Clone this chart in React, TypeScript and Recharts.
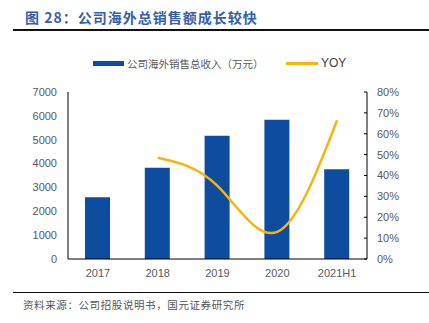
import React from "react";
import {
  ComposedChart,
  Bar,
  Line,
  XAxis,
  YAxis,
} from "recharts";

const years = ["2017", "2018", "2019", "2020", "2021H1"];
const sales = [2590, 3830, 5170, 5840, 3760];
const yoy = [null, 0.485, 0.35, 0.13, 0.665];
const salesTicks = [0, 1000, 2000, 3000, 4000, 5000, 6000, 7000];
const yoyTicks = [0, 0.1, 0.2, 0.3, 0.4, 0.5, 0.6, 0.7, 0.8];
const bandTicks = [1, 2, 3, 4];

const BLUE = "#0D4C9F";
const GOLD = "#F6B50E";
const TICK = { fill: "#595959", fontSize: 11, fontFamily: "Liberation Sans, Arial" };

const data = years.map((y, i) => ({ year: y, sales: sales[i], yoy: yoy[i] }));

const App = () => {
  return (
    <div style={{ position: "relative", width: 429, height: 323, background: "#fff" }}>
      <style>{`body{margin:0}`}</style>
      <div
        style={{
          position: "absolute",
          left: 25,
          top: 7,
          fontFamily: "Noto Sans CJK SC",
          fontWeight: 700,
          fontSize: 14,
          letterSpacing: 1,
          color: "#3560A8",
          whiteSpace: "nowrap",
        }}
      >
        图 28：公司海外总销售额成长较快
      </div>
      <div style={{ position: "absolute", left: 13, right: 0, top: 29, height: 1.5, background: "#111" }} />

      <ComposedChart
        width={429}
        height={323}
        data={data}
        margin={{ top: 92, right: 12, left: 18, bottom: 34 }}
        style={{ position: "absolute", left: 0, top: 0 }}
      >
        <XAxis
          xAxisId="band"
          type="number"
          domain={[0, 5]}
          ticks={bandTicks}
          height={0}
          tick={false}
          axisLine={false}
          tickSize={-4}
          tickLine={{ stroke: "#000" }}
        />
        <XAxis
          xAxisId="cat"
          dataKey="year"
          height={30}
          axisLine={{ stroke: "#000" }}
          tickLine={false}
          tickSize={6}
          tickMargin={4}
          tick={TICK}
          interval={0}
        />
        <YAxis
          yAxisId="left"
          domain={[0, 7000]}
          ticks={salesTicks}
          width={50}
          axisLine={{ stroke: "#000" }}
          tickLine={false}
          tickSize={6}
          tickMargin={5}
          tick={TICK}
        />
        <YAxis
          yAxisId="right"
          orientation="right"
          domain={[0, 0.8]}
          ticks={yoyTicks}
          width={50}
          axisLine={{ stroke: "#000" }}
          tickLine={{ stroke: "#000" }}
          tickSize={-3}
          tickMargin={13}
          tick={TICK}
          tickFormatter={(v: number) => `${Math.round(v * 100)}%`}
        />
        <Bar
          xAxisId="cat"
          yAxisId="left"
          dataKey="sales"
          fill={BLUE}
          barSize={25}
          isAnimationActive={false}
        />
        <Line
          xAxisId="cat"
          yAxisId="right"
          dataKey="yoy"
          type="natural"
          stroke={GOLD}
          strokeWidth={2.5}
          dot={false}
          activeDot={false}
          isAnimationActive={false}
        />
      </ComposedChart>

      <div style={{ position: "absolute", left: 93, top: 61, width: 31, height: 5, background: BLUE }} />
      <div
        style={{
          position: "absolute",
          left: 127,
          top: 56,
          fontFamily: "Noto Sans CJK SC",
          fontSize: 10.5,
          color: "#595959",
          whiteSpace: "nowrap",
        }}
      >
        公司海外销售总收入（万元）
      </div>
      <div style={{ position: "absolute", left: 286, top: 62, width: 32, height: 2.5, background: GOLD }} />
      <div
        style={{
          position: "absolute",
          left: 321,
          top: 56,
          fontFamily: "Liberation Sans, Arial",
          fontSize: 12,
          color: "#404040",
        }}
      >
        YOY
      </div>

      <div style={{ position: "absolute", left: 13, right: 0, top: 292, height: 1.3, background: "#111" }} />
      <div
        style={{
          position: "absolute",
          left: 23,
          top: 297,
          fontFamily: "Noto Sans CJK SC",
          fontSize: 10.5,
          letterSpacing: 0.6,
          color: "#555",
          whiteSpace: "nowrap",
        }}
      >
        资料来源：公司招股说明书，国元证券研究所
      </div>
    </div>
  );
};

export default App;
